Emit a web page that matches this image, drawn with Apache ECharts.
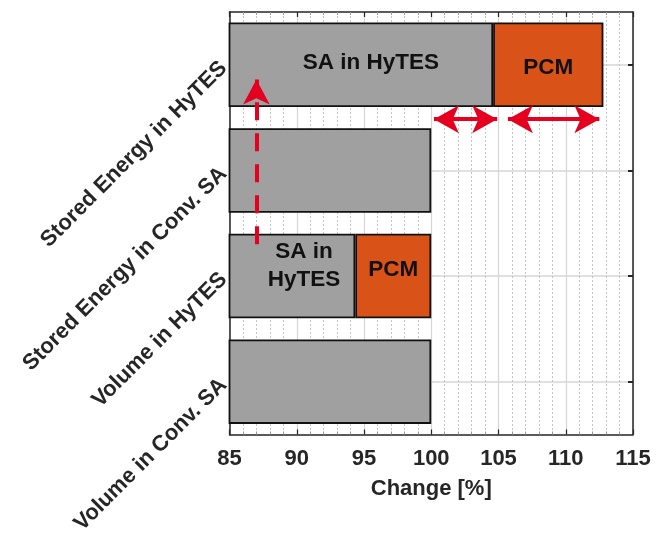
<!DOCTYPE html>
<html>
<head>
<meta charset="utf-8">
<script src="https://cdn.jsdelivr.net/npm/echarts@6/dist/echarts.min.js"></script>
<style>
  html, body { margin: 0; padding: 0; background: #ffffff; }
  #chart { width: 668px; height: 537px; }
</style>
</head>
<body>
<div id="chart"></div>
<script>
// Categories, bottom to top
const categories = ['Volume in Conv. SA', 'Volume in HyTES', 'Stored Energy in Conv. SA', 'Stored Energy in HyTES'];
// End of the sensible-storage (SA) part of each bar, % of the conventional system
const saValues = [100, 94.35, 100, 104.6];
// End of each bar including the PCM part
const totalValues = [100, 100, 100, 112.8];
// Axis range for the change in percent
const xMin = 85, xMax = 115, xStep = 5;
// Annotation arrows in data units (x in %, y in category-band units from the bottom)
const riseArrow = { x: 87, from: 1.8, to: 3.36 };
const spanArrows = [[100.2, 104.9], [105.7, 112.5]];
const spanArrowY = 2.985;

const FONT = "'Liberation Sans', Arial, sans-serif";
const TEXT = '#262626';
const GRAY = '#a0a0a0';
const ORANGE = '#d95319';
const RED = '#e5001f';

const pcmValues = totalValues.map((t, i) => {
  const d = +(t - saValues[i]).toFixed(4);
  return d > 0 ? d : '-';
});

const barLabel = (text, offset, lineHeight) => ({
  show: true, position: 'inside', formatter: text, offset: offset,
  color: '#111', fontFamily: FONT, fontWeight: 'bold', fontSize: 22.5,
  lineHeight: lineHeight || 24
});

const saData = saValues.map((v, i) => {
  if (i === 3) return { value: v, label: barLabel('SA in HyTES', [10, -2]) };
  if (i === 1) return { value: v, label: barLabel('SA in\nHyTES', [12, -10], 28) };
  return v;
});
const pcmData = pcmValues.map((v, i) => {
  if (i === 3) return { value: v, label: barLabel('PCM', [0, 3]) };
  if (i === 1) return { value: v, label: barLabel('PCM', [0, -6]) };
  return v;
});

const xAxisCommon = {
  type: 'value', min: xMin, max: xMax, interval: xStep,
  axisLine: { show: true, onZero: false, lineStyle: { color: TEXT, width: 1.5 } },
  axisTick: { show: true, inside: true, length: 5, lineStyle: { color: TEXT, width: 1.2 } },
  minorTick: { show: true, splitNumber: 5, length: 3, lineStyle: { color: '#9a9a9a', width: 1 } }
};

const option = {
  animation: false,
  backgroundColor: '#ffffff',
  grid: { left: 229.5, right: 35, top: 12, bottom: 102, containLabel: false },
  xAxis: [
    Object.assign({}, xAxisCommon, {
      position: 'bottom',
      name: 'Change [%]', nameLocation: 'middle', nameGap: 43,
      nameTextStyle: { color: TEXT, fontFamily: FONT, fontWeight: 'bold', fontSize: 22 },
      axisLabel: { color: TEXT, fontFamily: FONT, fontWeight: 'bold', fontSize: 22, margin: 13 },
      splitLine: { show: true, lineStyle: { color: '#d6d6d6', width: 1.2 } },
      minorSplitLine: { show: true, lineStyle: { color: '#c4c4c4', width: 1, type: [2, 2] } }
    }),
    Object.assign({}, xAxisCommon, {
      position: 'top',
      axisLabel: { show: false },
      splitLine: { show: false }
    })
  ],
  yAxis: [
    {
      type: 'category', data: categories, position: 'left',
      axisLine: { show: true, lineStyle: { color: TEXT, width: 1.5 } },
      axisTick: { show: true, inside: true, alignWithLabel: true, length: 5, lineStyle: { color: TEXT } },
      axisLabel: { rotate: 45, margin: 6, color: TEXT, fontFamily: FONT, fontWeight: 'bold', fontSize: 22 },
      splitLine: { show: true, alignWithLabel: true, lineStyle: { color: '#d6d6d6', width: 1.5 } }
    },
    {
      type: 'category', data: categories, position: 'right',
      axisLine: { show: true, lineStyle: { color: TEXT, width: 1.5 } },
      axisTick: { show: true, inside: true, alignWithLabel: true, length: 5, lineStyle: { color: TEXT, width: 2 } },
      axisLabel: { show: false },
      splitLine: { show: false }
    },
    { type: 'value', min: 0, max: categories.length, show: false }
  ],
  series: [
    {
      name: 'SA', type: 'bar', stack: 'total', xAxisIndex: 0, yAxisIndex: 0,
      barCategoryGap: '20%', clip: true,
      itemStyle: { color: GRAY, borderColor: '#111', borderWidth: 1.8 },
      data: saData
    },
    {
      name: 'PCM', type: 'bar', stack: 'total', xAxisIndex: 0, yAxisIndex: 0,
      barCategoryGap: '20%', clip: true,
      itemStyle: { color: ORANGE, borderColor: '#111', borderWidth: 1.8 },
      data: pcmData
    },
    {
      name: 'rise', type: 'line', xAxisIndex: 0, yAxisIndex: 2, data: [], z: 10,
      markLine: {
        silent: true, z: 10, animation: false,
        symbol: ['none', 'arrow'], symbolSize: [20, 25],
        label: { show: false },
        lineStyle: { color: RED, width: 4, type: [18, 13], opacity: 1 },
        data: [[{ coord: [riseArrow.x, riseArrow.from] }, { coord: [riseArrow.x, riseArrow.to] }]]
      }
    },
    {
      name: 'spans', type: 'line', xAxisIndex: 0, yAxisIndex: 2, data: [], z: 10,
      markLine: {
        silent: true, z: 10, animation: false,
        symbol: ['arrow', 'arrow'], symbolSize: [21, 25],
        label: { show: false },
        lineStyle: { color: RED, width: 4, type: 'solid', opacity: 1 },
        data: spanArrows.map(a => [{ coord: [a[0], spanArrowY] }, { coord: [a[1], spanArrowY] }])
      }
    }
  ]
};

const chart = echarts.init(document.getElementById('chart'), null, { renderer: 'canvas' });
chart.setOption(option);
</script>
</body>
</html>
